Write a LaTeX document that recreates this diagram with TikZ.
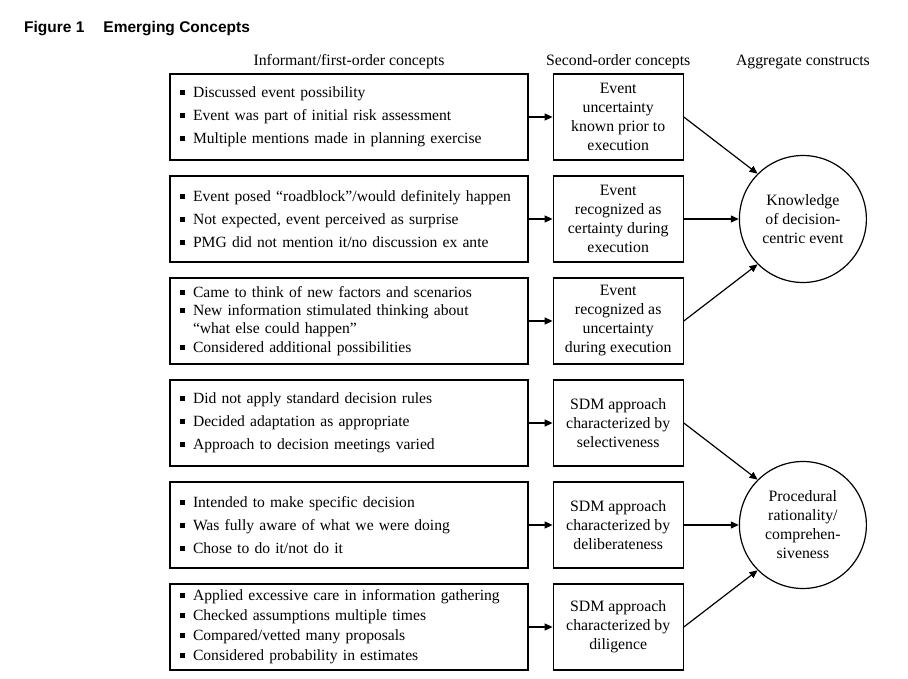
\documentclass[tikz,border=0pt]{standalone}
\usepackage{fontspec}
\setmainfont{Liberation Serif}
\setsansfont{Liberation Sans}
\usetikzlibrary{arrows.meta, positioning}

\newcommand{\sqbul}{\makebox[13pt][l]{\raisebox{2.5pt}{\rule{5pt}{5pt}}}}
\newcommand{\sqind}{\hspace*{13pt}}

\begin{document}
\begin{tikzpicture}[
    x=1pt, y=-1pt,
    txt/.style={font=\fontsize{15.6}{18}\selectfont},
    firstbox/.style={draw, line width=1.2pt, txt, align=left, text width=338pt,
        inner xsep=10pt, inner ysep=0pt, minimum height=86pt},
    secbox/.style={draw, line width=1.2pt, font=\fontsize{15.8}{19}\selectfont,
        align=center, minimum width=130pt, minimum height=86pt, inner sep=2pt},
    aggcirc/.style={draw, circle, line width=1.2pt, font=\fontsize{15.8}{19}\selectfont,
        align=center, minimum size=127pt, inner sep=0pt},
    colhead/.style={font=\fontsize{15.8}{18}\selectfont, inner sep=0pt},
    arr/.style={-{Triangle[length=8pt, width=7pt]}, line width=1.2pt},
    node distance=14.8pt
]
    \useasboundingbox (0,0) rectangle (908,679);

    % title
    \node[font=\sffamily\bfseries\fontsize{15.5}{17}\selectfont, anchor=west, inner sep=0pt]
        (title) at (24,29) {Figure 1\hspace{19pt}Emerging Concepts};

    % first-order concepts
    \node[firstbox] (l1) at (349,117) {\sqbul Discussed event possibility\\[5pt]
        \sqbul Event was part of initial risk assessment\\[5pt]
        \sqbul Multiple mentions made in planning exercise};
    \node[firstbox, below=of l1] (l2) {\sqbul Event posed ``roadblock''/would definitely happen\\[5pt]
        \sqbul Not expected, event perceived as surprise\\[5pt]
        \sqbul PMG did not mention it/no discussion ex ante};
    \node[firstbox, below=of l2] (l3) {\sqbul Came to think of new factors and scenarios\\[0pt]
        \sqbul New information stimulated thinking about\\
        \sqind ``what else could happen''\\[1pt]
        \sqbul Considered additional possibilities};
    \node[firstbox, below=of l3] (l4) {\sqbul Did not apply standard decision rules\\[5pt]
        \sqbul Decided adaptation as appropriate\\[5pt]
        \sqbul Approach to decision meetings varied};
    \node[firstbox, below=of l4] (l5) {\sqbul Intended to make specific decision\\[5pt]
        \sqbul Was fully aware of what we were doing\\[5pt]
        \sqbul Chose to do it/not do it};
    \node[firstbox, below=of l5] (l6) {\sqbul Applied excessive care in information gathering\\[2pt]
        \sqbul Checked assumptions multiple times\\[2pt]
        \sqbul Compared/vetted many proposals\\[2pt]
        \sqbul Considered probability in estimates};

    % second-order concepts
    \node[secbox, right=24pt of l1] (m1) {Event\\uncertainty\\known prior to\\execution};
    \node[secbox, right=24pt of l2] (m2) {Event\\recognized as\\certainty during\\execution};
    \node[secbox, right=24pt of l3] (m3) {Event\\recognized as\\uncertainty\\during execution};
    \node[secbox, right=24pt of l4] (m4) {SDM approach\\characterized by\\selectiveness};
    \node[secbox, right=24pt of l5] (m5) {SDM approach\\characterized by\\deliberateness};
    \node[secbox, right=24pt of l6] (m6) {SDM approach\\characterized by\\diligence};

    % aggregate constructs
    \node[aggcirc, right=55pt of m2] (know) {Knowledge\\of decision-\\centric event};
    \node[aggcirc, right=55pt of m5] (proc) {Procedural\\rationality/\\comprehen-\\siveness};

    % column heads
    \node[colhead, above=4pt of l1] (h1) {Informant/first-order concepts};
    \node[colhead] (h2) at (m1 |- h1) {Second-order concepts};
    \node[colhead] (h3) at (know |- h1) {Aggregate constructs};

    \foreach \i in {1,...,6}
        \draw[arr] (l\i) -- (m\i);
    \draw[arr] (m1.east) -- (know.135);
    \draw[arr] (m2) -- (know);
    \draw[arr] (m3.east) -- (know.225);
    \draw[arr] (m4.east) -- (proc.135);
    \draw[arr] (m5) -- (proc);
    \draw[arr] (m6.east) -- (proc.225);
\end{tikzpicture}
\end{document}
